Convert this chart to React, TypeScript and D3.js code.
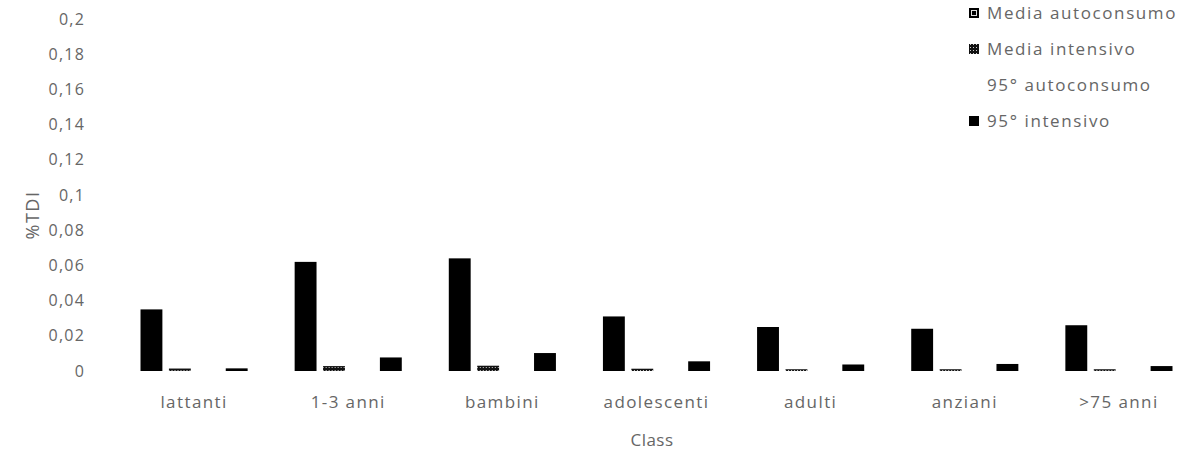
import React from "react";
import * as d3 from "d3";

const categories = ["lattanti", "1-3 anni", "bambini", "adolescenti", "adulti", "anziani", ">75 anni"];
const seriesNames = ["Media autoconsumo", "Media intensivo", "95° autoconsumo", "95° intensivo"];
const mediaAutoconsumo = [0.035, 0.062, 0.064, 0.031, 0.025, 0.024, 0.026];
const mediaIntensivo = [0.0014, 0.0028, 0.003, 0.0013, 0.001, 0.001, 0.001];
const p95Autoconsumo = [0.002, 0.004, 0.004, 0.002, 0.0015, 0.0015, 0.0015];
const p95Intensivo = [0.0015, 0.0077, 0.0102, 0.0055, 0.0037, 0.004, 0.0028];
const yTicks = [0, 0.02, 0.04, 0.06, 0.08, 0.1, 0.12, 0.14, 0.16, 0.18, 0.2];

const seriesValues = [mediaAutoconsumo, mediaIntensivo, p95Autoconsumo, p95Intensivo];
const seriesFill = ["#000", "url(#dotted)", "#fff", "#000"];

const W = 1194;
const H = 457;
const FONT = "'Open Sans', sans-serif";
const TEXT = "#666";

export default function App() {
  const x0 = d3
    .scaleBand<string>()
    .domain(categories)
    .range([117, 1196])
    .paddingInner(0.305)
    .paddingOuter(0.1525);
  const x1 = d3
    .scaleBand<string>()
    .domain(seriesNames)
    .range([0, x0.bandwidth()])
    .paddingInner(0.23);
  const y = d3.scaleLinear().domain([0, 0.2]).range([371, 19]);
  const fmt = (v: number) => String(+v.toFixed(2)).replace(".", ",");

  return (
    <svg width={W} height={H} style={{ position: "absolute", left: 0, top: 0, background: "#fff" }}>
      <defs>
        <pattern id="dotted" width="3" height="3" patternUnits="userSpaceOnUse">
          <rect width="3" height="3" fill="#111" />
          <rect x="1" y="1" width="1" height="1" fill="#ccc" />
        </pattern>
      </defs>

      {/* value axis labels */}
      {yTicks.map((t) => (
        <text
          key={t}
          x={85}
          y={y(t)}
          dy="0.35em"
          textAnchor="end"
          fontFamily={FONT}
          fontSize={16}
          letterSpacing={1.2}
          fill={TEXT}
        >
          {fmt(t)}
        </text>
      ))}
      <text
        transform={`translate(39,215) rotate(-90)`}
        textAnchor="middle"
        fontFamily={FONT}
        fontSize={18}
        letterSpacing={1.5}
        fill={TEXT}
      >
        %TDI
      </text>

      {/* grouped bars */}
      {categories.map((c, i) => (
        <g key={c} transform={`translate(${x0(c)},0)`}>
          {seriesNames.map((s, k) => {
            const v = seriesValues[k][i];
            return (
              <rect
                key={s}
                x={x1(s)}
                y={y(v)}
                width={x1.bandwidth()}
                height={y(0) - y(v)}
                fill={seriesFill[k]}
              />
            );
          })}
          <text
            x={x0.bandwidth() / 2}
            y={408}
            textAnchor="middle"
            fontFamily={FONT}
            fontSize={17}
            letterSpacing={1.4}
            fill={TEXT}
          >
            {c}
          </text>
        </g>
      ))}

      <text x={652} y={446} textAnchor="middle" fontFamily={FONT} fontSize={17} letterSpacing={0.5} fill={TEXT}>
        Class
      </text>

      {/* legend */}
      {seriesNames.map((s, k) => {
        const ly = 13 + k * 36;
        return (
          <g key={s} transform={`translate(969,${ly})`}>
            <rect x={0} y={-5} width={10} height={10} fill={seriesFill[k]} />
            {k === 0 && <rect x={2.5} y={-2.5} width={5} height={5} fill="none" stroke="#ddd" strokeWidth={1} />}
            <text x={18} y={0} dy="0.35em" fontFamily={FONT} fontSize={17} letterSpacing={1.6} fill={TEXT}>
              {s}
            </text>
          </g>
        );
      })}
    </svg>
  );
}
